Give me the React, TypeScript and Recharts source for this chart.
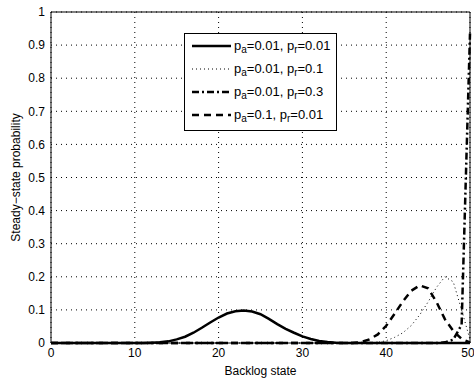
import React from 'react';
import {
  LineChart,
  Line,
  XAxis,
  YAxis,
  CartesianGrid,
  Legend,
  ReferenceArea,
} from 'recharts';

const states = Array.from({ length: 51 }, (_, i) => i);

// pa=0.01, pr=0.01
const lowLow = [
  0, 0, 0, 0, 0, 0, 0, 0, 0, 0,
  0, 0, 0.001, 0.002, 0.005, 0.011, 0.019, 0.031, 0.046, 0.062,
  0.077, 0.089, 0.096, 0.098, 0.095, 0.087, 0.073, 0.057, 0.043, 0.031,
  0.02, 0.012, 0.006, 0.003, 0.001, 0, 0, 0, 0, 0,
  0, 0, 0, 0, 0, 0, 0, 0, 0, 0, 0,
];
// pa=0.01, pr=0.1
const lowMid = [
  0, 0, 0, 0, 0, 0, 0, 0, 0, 0,
  0, 0, 0, 0, 0, 0, 0, 0, 0, 0,
  0, 0, 0, 0, 0, 0, 0, 0, 0, 0,
  0, 0, 0, 0, 0, 0, 0, 0, 0, 0.002,
  0.007, 0.017, 0.031, 0.053, 0.085, 0.124, 0.168, 0.2, 0.185, 0.1, 0.01,
];
// pa=0.01, pr=0.3
const lowHigh = [
  0, 0, 0, 0, 0, 0, 0, 0, 0, 0,
  0, 0, 0, 0, 0, 0, 0, 0, 0, 0,
  0, 0, 0, 0, 0, 0, 0, 0, 0, 0,
  0, 0, 0, 0, 0, 0, 0, 0, 0, 0,
  0, 0, 0, 0, 0, 0, 0, 0.002, 0.01, 0.055, 0.935,
];
// pa=0.1, pr=0.01
const highLow = [
  0, 0, 0, 0, 0, 0, 0, 0, 0, 0,
  0, 0, 0, 0, 0, 0, 0, 0, 0, 0,
  0, 0, 0, 0, 0, 0, 0, 0, 0, 0,
  0, 0, 0, 0, 0, 0, 0, 0.003, 0.011, 0.026,
  0.052, 0.088, 0.126, 0.158, 0.174, 0.165, 0.124, 0.072, 0.037, 0.012, 0.002,
];

const xTicks = [0, 10, 20, 30, 40, 50];
const yTicks = [0, 0.1, 0.2, 0.3, 0.4, 0.5, 0.6, 0.7, 0.8, 0.9, 1];

const series = [
  { key: 'lowLow', pa: '0.01', pr: '0.01', width: 2.5, dash: undefined },
  { key: 'lowMid', pa: '0.01', pr: '0.1', width: 1, dash: '1 3' },
  { key: 'lowHigh', pa: '0.01', pr: '0.3', width: 2.5, dash: '7 3 2 3' },
  { key: 'highLow', pa: '0.1', pr: '0.01', width: 2.5, dash: '7 5' },
];

const data = states.map((s, i) => ({
  state: s,
  lowLow: lowLow[i],
  lowMid: lowMid[i],
  lowHigh: lowHigh[i],
  highLow: highLow[i],
}));

const font = 'Liberation Sans, Arial, sans-serif';

const LegendBox = () => (
  <svg width={153} height={98} style={{ display: 'block' }}>
    <rect x={0.5} y={0.5} width={152} height={97} fill="#fff" stroke="#000" />
    {series.map((s, i) => {
      const y = 13 + i * 23;
      return (
        <g key={s.key}>
          <line x1={8} x2={47} y1={y} y2={y} stroke="#000" strokeWidth={s.width} strokeDasharray={s.dash} />
          <text x={50} y={y + 4} fontFamily={font} fontSize={13} fill="#000">
            p<tspan fontSize={10} dy={3}>a</tspan>
            <tspan dy={-3}>={s.pa}, p</tspan>
            <tspan fontSize={10} dy={3}>r</tspan>
            <tspan dy={-3}>={s.pr}</tspan>
          </text>
        </g>
      );
    })}
  </svg>
);

export default function App() {
  return (
    <div style={{ position: 'absolute', left: 0, top: 0, background: '#fff' }}>
      <LineChart width={474} height={378} data={data} margin={{ top: 12, right: 4, bottom: 0, left: 0 }}>
        <CartesianGrid stroke="#000" strokeDasharray="1 4" strokeWidth={1} />
        <XAxis
          dataKey="state"
          type="number"
          domain={[0, 50]}
          ticks={xTicks}
          height={35}
          tickSize={0}
          tickMargin={5}
          axisLine={false}
          tick={{ fill: '#000', fontSize: 12, fontFamily: font }}
          label={{ value: 'Backlog state', position: 'insideBottom', offset: 3, fill: '#000', fontSize: 12, fontFamily: font }}
        />
        <YAxis
          type="number"
          domain={[0, 1]}
          ticks={yTicks}
          width={51}
          tickSize={0}
          tickMargin={6}
          axisLine={false}
          interval={0}
          tickFormatter={(v: number) => String(Math.round(v * 10) / 10)}
          tick={{ fill: '#000', fontSize: 12, fontFamily: font }}
          label={{
            value: 'Steady\u2212state probability',
            angle: -90,
            position: 'insideLeft',
            offset: 16,
            fill: '#000',
            fontSize: 12,
            fontFamily: font,
            style: { textAnchor: 'middle' },
          }}
        />
        <ReferenceArea x1={0} x2={50} y1={0} y2={1} fill="none" stroke="#000" strokeWidth={1} ifOverflow="visible" />
        {series.map((s) => (
          <Line
            key={s.key}
            dataKey={s.key}
            type="linear"
            stroke="#000"
            strokeWidth={s.width}
            strokeDasharray={s.dash}
            dot={false}
            activeDot={false}
            isAnimationActive={false}
          />
        ))}
        <Legend
          layout="horizontal"
          verticalAlign="middle"
          align="center"
          content={() => <LegendBox />}
          wrapperStyle={{ position: 'absolute', left: 184, top: 33, width: 'auto' }}
        />
      </LineChart>
    </div>
  );
}
